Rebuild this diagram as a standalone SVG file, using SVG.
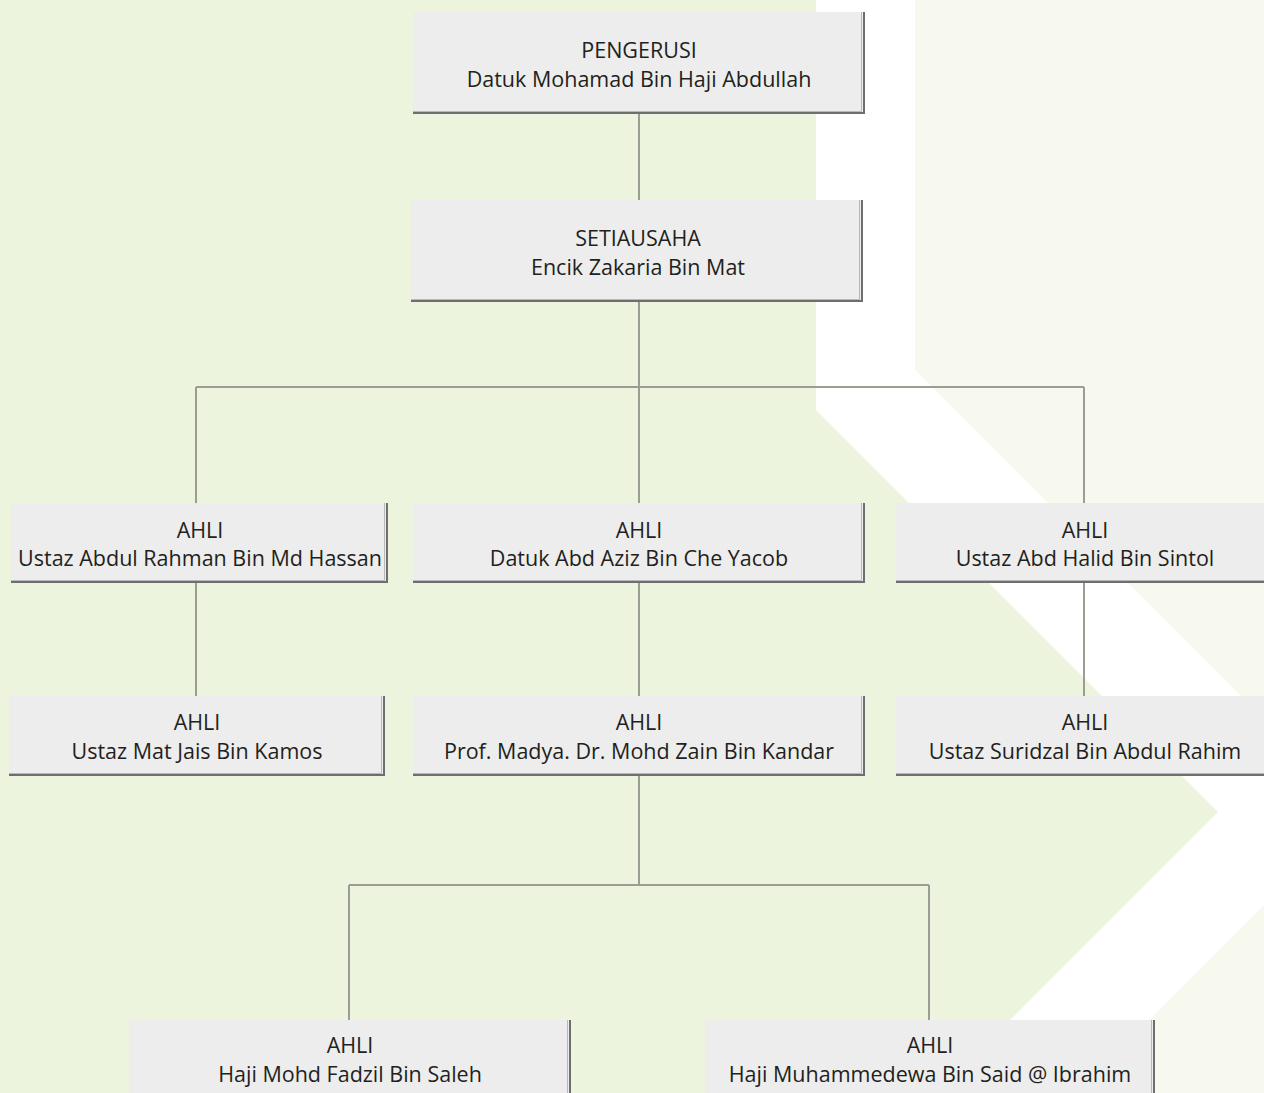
<svg xmlns="http://www.w3.org/2000/svg" width="1264" height="1093" viewBox="0 0 1264 1093">
<style>
.bg1{fill:#EDF4DE}
.bg2{fill:#F7F9EE}
.box{fill:#EDEDED}
.sh{fill:none;stroke:#6E6E6E;stroke-width:2}
.sh2{fill:none;stroke:#B8B8B8;stroke-width:1}
.t{font-family:"Open Sans","Liberation Sans",sans-serif;font-size:21.5px;fill:#231F20;text-anchor:middle}
.c{fill:none;stroke:#9C9C92;stroke-width:2}
</style>
<rect width="1264" height="1093" fill="#FFFFFF"/>
<g id="background">
<polygon class="bg1" points="0,0 816,0 816,410 1218,812 937,1093 0,1093"/>
<polygon class="bg2" points="915,0 1264,0 1264,719 915,370"/>
<polygon class="bg2" points="1264,905 1264,1093 1076,1093"/>
</g>
<g id="connectors">
<line class="c" x1="639" y1="114" x2="639" y2="200"/>
<line class="c" x1="639" y1="302" x2="639" y2="503"/>
<line class="c" x1="196" y1="387" x2="1084" y2="387"/>
<line class="c" x1="196" y1="387" x2="196" y2="503"/>
<line class="c" x1="1084" y1="387" x2="1084" y2="503"/>
<line class="c" x1="196" y1="583" x2="196" y2="696"/>
<line class="c" x1="639" y1="583" x2="639" y2="696"/>
<line class="c" x1="1084" y1="583" x2="1084" y2="696"/>
<line class="c" x1="639" y1="776" x2="639" y2="885"/>
<line class="c" x1="349" y1="885" x2="929" y2="885"/>
<line class="c" x1="349" y1="885" x2="349" y2="1020"/>
<line class="c" x1="929" y1="885" x2="929" y2="1020"/>
</g>
<g id="pengerusi">
<rect class="box" x="413" y="12" width="452" height="102"/>
<path class="sh2" d="M413,111.5 H861.5 V12"/>
<path class="sh" d="M413,113 H864 V12"/>
<text class="t" x="639" y="58">PENGERUSI</text>
<text class="t" x="639" y="87">Datuk Mohamad Bin Haji Abdullah</text>
</g>
<g id="setiausaha">
<rect class="box" x="411" y="200" width="452" height="102"/>
<path class="sh2" d="M411,299.5 H859.5 V200"/>
<path class="sh" d="M411,301 H862 V200"/>
<text class="t" x="638" y="246">SETIAUSAHA</text>
<text class="t" x="638" y="275">Encik Zakaria Bin Mat</text>
</g>
<g id="ahli-abdul-rahman">
<rect class="box" x="11" y="503" width="377" height="80"/>
<path class="sh2" d="M11,580.5 H384.5 V503"/>
<path class="sh" d="M11,582 H387 V503"/>
<text class="t" x="200" y="538">AHLI</text>
<text class="t" x="200" y="566">Ustaz Abdul Rahman Bin Md Hassan</text>
</g>
<g id="ahli-abd-aziz">
<rect class="box" x="413" y="503" width="452" height="80"/>
<path class="sh2" d="M413,580.5 H861.5 V503"/>
<path class="sh" d="M413,582 H864 V503"/>
<text class="t" x="639" y="538">AHLI</text>
<text class="t" x="639" y="566">Datuk Abd Aziz Bin Che Yacob</text>
</g>
<g id="ahli-abd-halid">
<rect class="box" x="896" y="503" width="370" height="80"/>
<path class="sh2" d="M896,580.5 H1266"/>
<path class="sh" d="M896,582 H1266"/>
<text class="t" x="1085" y="538">AHLI</text>
<text class="t" x="1085" y="566">Ustaz Abd Halid Bin Sintol</text>
</g>
<g id="ahli-mat-jais">
<rect class="box" x="9" y="696" width="376" height="80"/>
<path class="sh2" d="M9,773.5 H381.5 V696"/>
<path class="sh" d="M9,775 H384 V696"/>
<text class="t" x="197" y="730">AHLI</text>
<text class="t" x="197" y="759">Ustaz Mat Jais Bin Kamos</text>
</g>
<g id="ahli-mohd-zain">
<rect class="box" x="413" y="696" width="452" height="80"/>
<path class="sh2" d="M413,773.5 H861.5 V696"/>
<path class="sh" d="M413,775 H864 V696"/>
<text class="t" x="639" y="730">AHLI</text>
<text class="t" x="639" y="759">Prof. Madya. Dr. Mohd Zain Bin Kandar</text>
</g>
<g id="ahli-suridzal">
<rect class="box" x="896" y="696" width="370" height="80"/>
<path class="sh2" d="M896,773.5 H1266"/>
<path class="sh" d="M896,775 H1266"/>
<text class="t" x="1085" y="730">AHLI</text>
<text class="t" x="1085" y="759">Ustaz Suridzal Bin Abdul Rahim</text>
</g>
<g id="ahli-mohd-fadzil">
<rect class="box" x="129" y="1020" width="442" height="80"/>
<path class="sh2" d="M567.5,1020 V1100"/>
<path class="sh" d="M570,1020 V1100"/>
<text class="t" x="350" y="1053">AHLI</text>
<text class="t" x="350" y="1082">Haji Mohd Fadzil Bin Saleh</text>
</g>
<g id="ahli-muhammedewa">
<rect class="box" x="705" y="1020" width="450" height="80"/>
<path class="sh2" d="M1151.5,1020 V1100"/>
<path class="sh" d="M1154,1020 V1100"/>
<text class="t" x="930" y="1053">AHLI</text>
<text class="t" x="930" y="1082">Haji Muhammedewa Bin Said @ Ibrahim</text>
</g>
</svg>
